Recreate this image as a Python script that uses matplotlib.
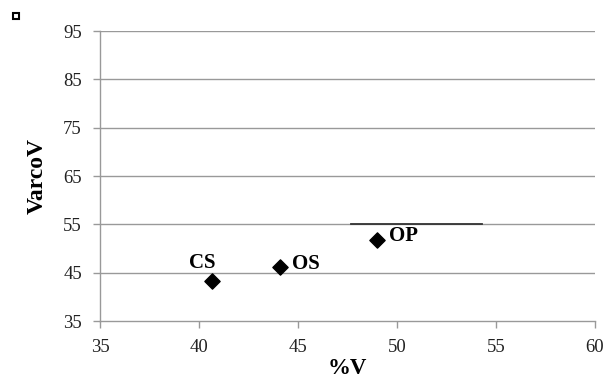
import matplotlib
matplotlib.use("Agg")
import matplotlib.pyplot as plt

labels = ["CS", "OS", "OP"]
pct_v = [40.65, 44.1, 49.0]
varco_v = [43.2, 46.2, 51.8]
label_x = [40.15, 45.4, 50.35]
label_y = [47.0, 46.8, 52.6]
seg_x = [47.7, 54.3]
seg_y = [55, 55]
x_ticks = [35, 40, 45, 50, 55, 60]
y_ticks = [35, 45, 55, 65, 75, 85, 95]

plt.rcParams['font.family'] = ['Liberation Serif', 'DejaVu Serif']

fig = plt.figure(figsize=(6.07, 3.81), dpi=100)
ax = fig.add_axes([100/607, 1-321/381, (595-100)/607, (321-31)/381])

ax.set_xlim(35, 60)
ax.set_ylim(35, 95)
ax.set_xticks(x_ticks)
ax.set_yticks(y_ticks)
ax.tick_params(axis='both', labelsize=13.5, color='#999999', length=5, width=1,
               labelcolor='#222222')
ax.tick_params(axis='x', pad=8)
ax.tick_params(axis='y', pad=8)
for y in y_ticks[1:]:
    ax.axhline(y, color='#999999', lw=1, zorder=1)
for s in ['top', 'right']:
    ax.spines[s].set_visible(False)
for s in ['left', 'bottom']:
    ax.spines[s].set_color('#999999')
    ax.spines[s].set_linewidth(1)

ax.plot(seg_x, seg_y, color='#333333', lw=1.3, zorder=2)
ax.scatter(pct_v, varco_v, marker='D', s=60, color='black', zorder=3)

for lab, x, y in zip(labels, label_x, label_y):
    ax.text(x, y, lab, fontsize=15, fontweight='bold',
            ha='center', va='center')

ax.set_xlabel('%V', fontsize=16.5, fontweight='bold', labelpad=1.5)
ax.set_ylabel('VarcoV', fontsize=17, fontweight='bold', labelpad=11)

fig.patches.append(plt.Rectangle((13/607, 1-19/381), 6/607, 6/381,
                                 transform=fig.transFigure, fill=False,
                                 edgecolor='black', lw=1.5))

fig.savefig('out.png', dpi=100)
